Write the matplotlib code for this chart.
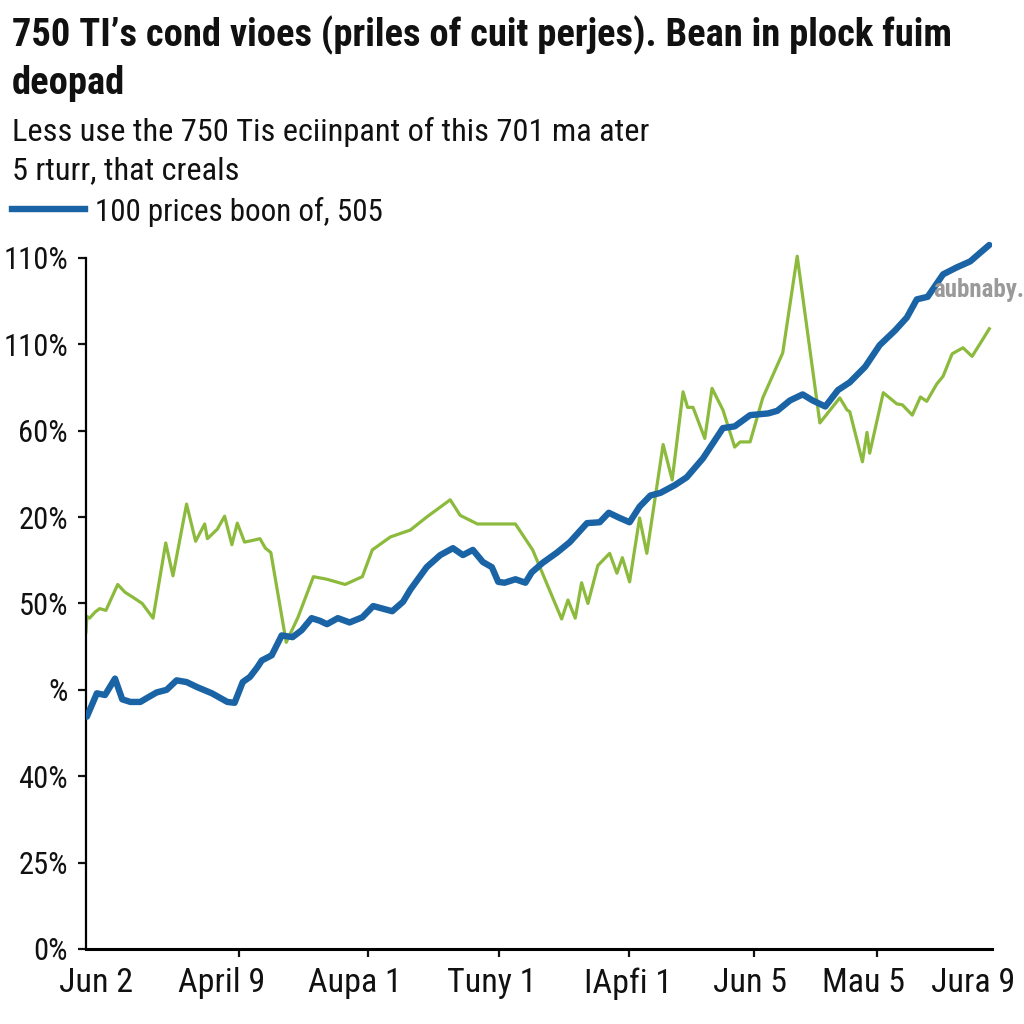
import matplotlib
matplotlib.use('Agg')
import matplotlib.pyplot as plt
from matplotlib.lines import Line2D

# condensed face like the original; falls back if missing
FONTS = ['Roboto Condensed', 'Archivo Narrow', 'Liberation Sans', 'DejaVu Sans']
plt.rcParams['font.family'] = FONTS

# ---- data (x in % of period, y in index points; 10 points per gridline) ----
green_x = [0, 0.1, 0.4, 1.0, 1.5, 2.2, 3.5, 4.3, 5.2, 6.2, 7.4, 8.8, 9.6, 11.1, 12.1,
           13.1, 13.4, 14.5, 15.3, 16.1, 16.7, 17.5, 18.4, 19.2, 19.8, 20.4, 22.1, 23.4,
           25.1, 26.6, 28.6, 30.5, 31.6, 33.6, 35.8, 37.6, 40.2, 41.3, 43.2, 47.4, 49.3,
           50.7, 52.5, 53.2, 54.0, 54.7, 55.4, 56.5, 57.8, 58.6, 59.2, 60.0, 61.1, 61.9,
           63.7, 64.7, 65.9, 66.4, 67.0, 68.3, 69.1, 70.3, 71.6, 72.2, 73.3, 74.7, 76.9,
           78.5, 81.0, 83.2, 84.0, 84.3, 85.7, 86.2, 86.5, 88.0, 89.5, 90.1, 91.2, 92.1,
           92.8, 93.9, 94.6, 95.6, 96.8, 97.8, 98.7, 99.7]
green_y = [36.7, 38.5, 38.3, 39.0, 39.4, 39.2, 42.2, 41.3, 40.7, 40.0, 38.3, 47.0, 43.2,
           51.5, 47.2, 49.2, 47.5, 48.6, 50.1, 46.8, 49.3, 47.1, 47.3, 47.5, 46.4, 45.9,
           35.5, 38.4, 43.1, 42.8, 42.2, 43.1, 46.2, 47.7, 48.5, 50.0, 52.0, 50.2, 49.2,
           49.2, 46.2, 42.7, 38.2, 40.4, 38.3, 42.4, 40.0, 44.4, 45.8, 43.5, 45.3, 42.5,
           49.9, 45.8, 58.4, 54.3, 64.5, 62.7, 62.7, 59.1, 64.9, 62.4, 58.1, 58.7, 58.7,
           63.8, 69.0, 80.2, 60.9, 63.8, 62.4, 62.2, 56.4, 59.8, 57.4, 64.4, 63.1, 63.0,
           61.8, 63.9, 63.4, 65.4, 66.3, 68.9, 69.6, 68.6, 70.1, 71.8]

blue_x = [0.1, 1.2, 2.1, 3.2, 4.0, 4.9, 6.0, 6.8, 7.8, 8.9, 10.0, 11.1, 12.3, 13.9, 15.6,
          16.4, 17.3, 18.1, 18.9, 19.4, 20.5, 21.6, 22.8, 23.8, 24.9, 25.8, 26.6, 27.8,
          29.1, 30.5, 31.7, 33.8, 35.0, 35.8, 37.6, 39.1, 40.5, 41.6, 42.7, 43.8, 44.8,
          45.5, 46.2, 47.4, 48.5, 49.2, 50.4, 52.0, 53.4, 55.3, 56.7, 57.7, 58.9, 60.0,
          61.1, 62.3, 63.4, 65.0, 66.3, 68.1, 70.3, 71.6, 73.3, 75.3, 76.3, 77.7, 79.1,
          80.2, 81.6, 83.0, 84.3, 86.0, 87.6, 89.3, 90.6, 91.7, 92.9, 94.6, 96.1, 97.6,
          98.7, 99.7]
blue_y = [26.9, 29.6, 29.4, 31.3, 28.9, 28.6, 28.6, 29.1, 29.7, 30.0, 31.1, 30.9, 30.3,
          29.6, 28.6, 28.5, 30.9, 31.5, 32.6, 33.4, 34.0, 36.3, 36.1, 36.9, 38.3, 38.0,
          37.6, 38.3, 37.8, 38.4, 39.7, 39.1, 40.2, 41.6, 44.2, 45.6, 46.4, 45.6, 46.2,
          44.8, 44.2, 42.5, 42.4, 42.8, 42.4, 43.6, 44.7, 45.9, 47.1, 49.3, 49.4, 50.5,
          49.9, 49.4, 51.2, 52.5, 52.8, 53.7, 54.6, 56.8, 60.3, 60.5, 61.8, 62.0, 62.3,
          63.5, 64.2, 63.5, 62.8, 64.7, 65.6, 67.4, 69.9, 71.6, 73.1, 75.2, 75.5, 78.1,
          78.9, 79.6, 80.6, 81.5]

y_ticks = [0, 10, 20, 30, 40, 50, 60, 70, 80]
y_labels = ['0%', '25%', '40%', '%', '50%', '20%', '60%', '110%', '110%']
x_label_pos = [1.1, 15.0, 29.7, 44.8, 59.8, 73.3, 85.8, 97.9]
x_labels = ['Jun 2', 'April 9', 'Aupa 1', 'Tuny 1', 'IApfi 1', 'Jun 5', 'Mau 5', 'Jura 9']
x_tick_marks = [16.9, 31.1, 45.6, 59.9, 73.7, 87.3]

title_lines = ["750 TI\u2019s cond vioes (priles of cuit perjes). Bean in plock fuim", "deopad"]
subtitle_lines = ["Less use the 750 Tis eciinpant of this 701 ma ater", "5 rturr, that creals"]
legend_label = "100 prices boon of, 505"

BLUE = '#1a64a6'
GREEN = '#8cba3c'
INK = '#111111'

fig = plt.figure(figsize=(10.24, 10.24), dpi=100)
fig.patch.set_facecolor('white')
renderer = fig.canvas.get_renderer()


def px(x, y):
    """pixel position (from top-left) -> figure fraction"""
    return x / 1024, 1 - y / 1024


def fit_width(txt, width_px):
    """scale a text's font size so that it is width_px wide"""
    w = txt.get_window_extent(renderer).width
    txt.set_fontsize(txt.get_fontsize() * width_px / w)


ax = fig.add_axes([86 / 1024, 75 / 1024, 906 / 1024, 717 / 1024])

ax.plot(green_x, green_y, color=GREEN, lw=2.3, zorder=2)
ax.plot(blue_x, blue_y, color=BLUE, lw=4.6, solid_capstyle='round', zorder=3)

ax.set_xlim(0, 100)
ax.set_ylim(0, 83)

for side in ['top', 'right']:
    ax.spines[side].set_visible(False)
ax.spines['left'].set_bounds(0, 80)
ax.spines['left'].set_linewidth(1.6)
ax.spines['bottom'].set_linewidth(2.2)

ax.set_yticks(y_ticks)
ax.set_yticklabels(y_labels, fontsize=22)
ax.tick_params(axis='y', length=6, width=1.6, pad=7, colors=INK)

ax.set_xticks(x_label_pos)
ax.set_xticklabels(x_labels, fontsize=24.5)
ax.tick_params(axis='x', which='major', length=0, pad=13, colors=INK)
ax.set_xticks(x_tick_marks, minor=True)
ax.tick_params(axis='x', which='minor', length=6, width=1.6, color=INK)

# title / subtitle / legend
t1 = fig.text(*px(12, 46), title_lines[0], fontsize=28, fontweight='bold',
              va='baseline', ha='left', color=INK)
fit_width(t1, 941)
fig.text(*px(12, 94), title_lines[1], fontsize=t1.get_fontsize(), fontweight='bold',
         va='baseline', ha='left', color=INK)

s1 = fig.text(*px(12, 141), subtitle_lines[0], fontsize=22, va='baseline', ha='left',
              color=INK)
fit_width(s1, 636)
fig.text(*px(12, 179), subtitle_lines[1], fontsize=s1.get_fontsize(), va='baseline',
         ha='left', color=INK)

fig.add_artist(Line2D([12 / 1024, 85 / 1024], [1 - 209 / 1024, 1 - 209 / 1024],
                      color=BLUE, lw=4.6, transform=fig.transFigure))
lg = fig.text(*px(95, 221), legend_label, fontsize=22, va='baseline', ha='left', color=INK)
fit_width(lg, 287)

# faint watermark
fig.text(*px(933, 290), 'aubnaby.', fontsize=18, fontweight='bold',
         color='#9a9a9a', va='center', ha='left')

fig.savefig('out.png', dpi=100, facecolor='white')
